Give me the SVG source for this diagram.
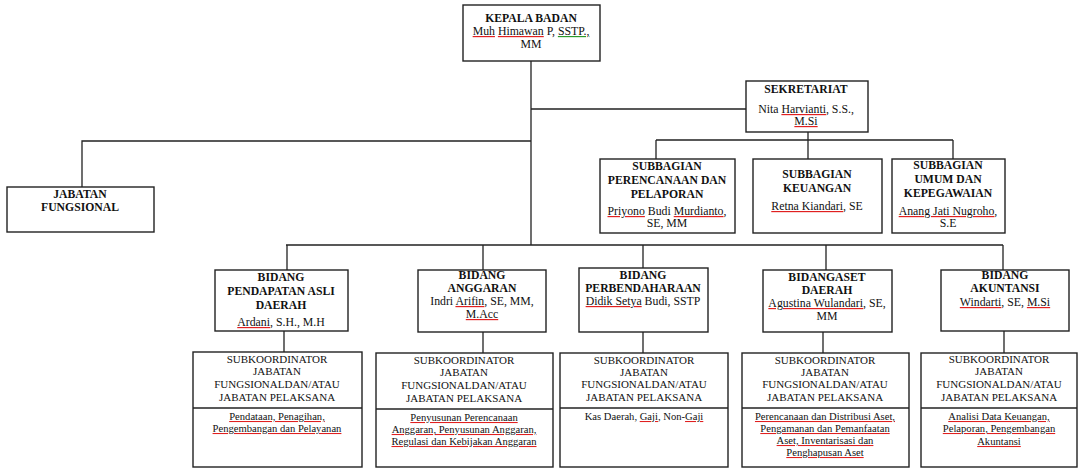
<svg xmlns="http://www.w3.org/2000/svg" width="1078" height="468" viewBox="0 0 1078 468">
<style>
.box{fill:#fff;stroke:#222;stroke-width:1.4}
.ln{fill:none;stroke:#222;stroke-width:1.3}
text{font-family:"Liberation Serif","Times New Roman",serif;fill:#111;text-anchor:middle}
.t{font-weight:bold;font-size:11.7px}
.n{font-size:11.8px}
.s{font-size:11px}
.d{font-size:10.6px}
.w{text-decoration:underline;fill:#e02020}
.g{text-decoration:underline;fill:#2a9a2a}
.k{fill:#111}
</style>
<g id="connectors">
<path class="ln" d="M531 61V245M531 109H746M531 141H82V187M808 132V140M656 140H953M656 140V159M808 140V159M953 140V159M286 245H1003M287 245V270M483 245V270M643 245V268M826 245V270M1003 245V270M284 331V352M483 332V353M643 332V353M823 332V353M1004 331V353"/>
</g>
<g id="kepala">
<rect class="box" x="463" y="5" width="137" height="56"/>
<text class="t" x="531" y="22">KEPALA BADAN</text>
<text class="n" x="531" y="35"><tspan class="w"><tspan class="k">Muh</tspan></tspan> <tspan class="w"><tspan class="k">Himawan</tspan></tspan> P, <tspan class="g"><tspan class="k">SSTP.,</tspan></tspan></text>
<text class="n" x="531" y="48">MM</text>
</g>
<g id="sekretariat">
<rect class="box" x="746" y="81" width="122" height="51"/>
<text class="t" x="806" y="93">SEKRETARIAT</text>
<text class="n" x="806" y="113">Nita <tspan class="w"><tspan class="k">Harvianti</tspan></tspan>, S.S.,</text>
<text class="n" x="806" y="125"><tspan class="w"><tspan class="k">M.Si</tspan></tspan></text>
</g>
<g id="jabatan-fungsional">
<rect class="box" x="7" y="187" width="147" height="45"/>
<text class="t" x="80" y="198">JABATAN</text>
<text class="t" x="80" y="211">FUNGSIONAL</text>
</g>
<g id="subbagian-perencanaan">
<rect class="box" x="600" y="159" width="135" height="74"/>
<text class="t" x="667" y="170">SUBBAGIAN</text>
<text class="t" x="667" y="184">PERENCANAAN DAN</text>
<text class="t" x="667" y="198">PELAPORAN</text>
<text class="n" x="667" y="215"><tspan class="w"><tspan class="k">Priyono</tspan></tspan> Budi <tspan class="w"><tspan class="k">Murdianto</tspan></tspan>,</text>
<text class="n" x="667" y="227">SE, MM</text>
</g>
<g id="subbagian-keuangan">
<rect class="box" x="753" y="159" width="129" height="74"/>
<text class="t" x="817" y="178">SUBBAGIAN</text>
<text class="t" x="817" y="192">KEUANGAN</text>
<text class="n" x="817" y="210"><tspan class="w"><tspan class="k">Retna Kiandari</tspan></tspan>, SE</text>
</g>
<g id="subbagian-umum">
<rect class="box" x="892" y="159" width="113" height="74"/>
<text class="t" x="948" y="169">SUBBAGIAN</text>
<text class="t" x="948" y="183">UMUM DAN</text>
<text class="t" x="948" y="197">KEPEGAWAIAN</text>
<text class="n" x="948" y="215"><tspan class="w"><tspan class="k">Anang Jati Nugroho</tspan></tspan>,</text>
<text class="n" x="948" y="227">S.E</text>
</g>
<g id="bidang-pad">
<rect class="box" x="215" y="270" width="133" height="61"/>
<text class="t" x="281" y="281">BIDANG</text>
<text class="t" x="281" y="295">PENDAPATAN ASLI</text>
<text class="t" x="281" y="309">DAERAH</text>
<text class="n" x="281" y="326"><tspan class="w"><tspan class="k">Ardani</tspan></tspan>, S.H., M.H</text>
</g>
<g id="bidang-anggaran">
<rect class="box" x="418" y="270" width="128" height="62"/>
<text class="t" x="482" y="279">BIDANG</text>
<text class="t" x="482" y="292">ANGGARAN</text>
<text class="n" x="482" y="305">Indri <tspan class="w"><tspan class="k">Arifin</tspan></tspan>, SE, MM,</text>
<text class="n" x="482" y="318"><tspan class="w"><tspan class="k">M.Acc</tspan></tspan></text>
</g>
<g id="bidang-perbendaharaan">
<rect class="box" x="579" y="268" width="129" height="64"/>
<text class="t" x="643" y="279">BIDANG</text>
<text class="t" x="643" y="292">PERBENDAHARAAN</text>
<text class="n" x="643" y="305"><tspan class="w"><tspan class="k">Didik Setya</tspan></tspan> Budi, SSTP</text>
</g>
<g id="bidang-aset">
<rect class="box" x="763" y="270" width="129" height="62"/>
<text class="t" x="827" y="281">BIDANGASET</text>
<text class="t" x="827" y="294">DAERAH</text>
<text class="n" x="827" y="307"><tspan class="w"><tspan class="k">Agustina Wulandari</tspan></tspan>, SE,</text>
<text class="n" x="827" y="320">MM</text>
</g>
<g id="bidang-akuntansi">
<rect class="box" x="941" y="270" width="128" height="61"/>
<text class="t" x="1005" y="279">BIDANG</text>
<text class="t" x="1005" y="292">AKUNTANSI</text>
<text class="n" x="1005" y="306"><tspan class="w"><tspan class="k">Windarti</tspan></tspan>, SE, <tspan class="w"><tspan class="k">M.Si</tspan></tspan></text>
</g>
<g id="sub-pad">
<rect class="box" x="193" y="352" width="169" height="115"/>
<path class="ln" d="M193 408H362"/>
<text class="s" x="277" y="363">SUBKOORDINATOR</text>
<text class="s" x="277" y="375">JABATAN</text>
<text class="s" x="277" y="388">FUNGSIONALDAN/ATAU</text>
<text class="s" x="277" y="401">JABATAN PELAKSANA</text>
<text class="d w" x="277" y="420"><tspan class="k">Pendataan, Penagihan,</tspan></text>
<text class="d w" x="277" y="432"><tspan class="k">Pengembangan dan Pelayanan</tspan></text>
</g>
<g id="sub-anggaran">
<rect class="box" x="376" y="353" width="177" height="114"/>
<path class="ln" d="M376 409H553"/>
<text class="s" x="464" y="364">SUBKOORDINATOR</text>
<text class="s" x="464" y="376">JABATAN</text>
<text class="s" x="464" y="389">FUNGSIONALDAN/ATAU</text>
<text class="s" x="464" y="402">JABATAN PELAKSANA</text>
<text class="d w" x="464" y="421"><tspan class="k">Penyusunan Perencanaan</tspan></text>
<text class="d w" x="464" y="433"><tspan class="k">Anggaran, Penyusunan Anggaran,</tspan></text>
<text class="d w" x="464" y="445"><tspan class="k">Regulasi dan Kebijakan Anggaran</tspan></text>
</g>
<g id="sub-perbendaharaan">
<rect class="box" x="560" y="353" width="168" height="114"/>
<path class="ln" d="M560 408H728"/>
<text class="s" x="644" y="364">SUBKOORDINATOR</text>
<text class="s" x="644" y="376">JABATAN</text>
<text class="s" x="644" y="388">FUNGSIONALDAN/ATAU</text>
<text class="s" x="644" y="401">JABATAN PELAKSANA</text>
<text class="d" x="644" y="420">Kas Daerah, <tspan class="w"><tspan class="k">Gaji</tspan></tspan>, Non-<tspan class="w"><tspan class="k">Gaji</tspan></tspan></text>
</g>
<g id="sub-aset">
<rect class="box" x="742" y="353" width="167" height="114"/>
<path class="ln" d="M742 408H909"/>
<text class="s" x="825" y="364">SUBKOORDINATOR</text>
<text class="s" x="825" y="376">JABATAN</text>
<text class="s" x="825" y="388">FUNGSIONALDAN/ATAU</text>
<text class="s" x="825" y="401">JABATAN PELAKSANA</text>
<text class="d w" x="825" y="420"><tspan class="k">Perencanaan dan Distribusi Aset,</tspan></text>
<text class="d w" x="825" y="432"><tspan class="k">Pengamanan dan Pemanfaatan</tspan></text>
<text class="d w" x="825" y="444"><tspan class="k">Aset, Inventarisasi dan</tspan></text>
<text class="d w" x="825" y="456"><tspan class="k">Penghapusan Aset</tspan></text>
</g>
<g id="sub-akuntansi">
<rect class="box" x="921" y="353" width="156" height="114"/>
<path class="ln" d="M921 408H1077"/>
<text class="s" x="999" y="363">SUBKOORDINATOR</text>
<text class="s" x="999" y="375">JABATAN</text>
<text class="s" x="999" y="388">FUNGSIONALDAN/ATAU</text>
<text class="s" x="999" y="401">JABATAN PELAKSANA</text>
<text class="d w" x="999" y="420"><tspan class="k">Analisi Data Keuangan,</tspan></text>
<text class="d w" x="999" y="432"><tspan class="k">Pelaporan, Pengembangan</tspan></text>
<text class="d w" x="999" y="445"><tspan class="k">Akuntansi</tspan></text>
</g>
</svg>
